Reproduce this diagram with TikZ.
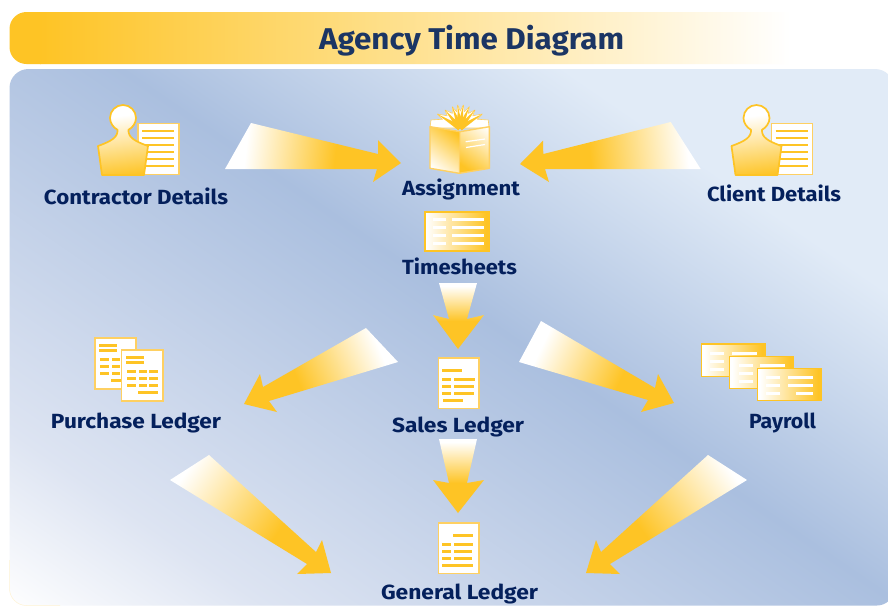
\documentclass[tikz,border=0pt]{standalone}
\usepackage{fontspec}
\usepackage{graphicx}
\setsansfont{Fira Sans}
\usetikzlibrary{calc}
\definecolor{ogold}{HTML}{FEC425}
\definecolor{opale}{HTML}{FED062}
\definecolor{navy}{HTML}{04205C}
\definecolor{titlenavy}{HTML}{1B3564}
\definecolor{bga}{HTML}{DDE4F2}
\definecolor{bgb}{HTML}{AABFDF}
\definecolor{bgc}{HTML}{E1EBF7}
\pgfdeclarehorizontalshading{wo}{100bp}{color(0bp)=(white); color(45bp)=(white); color(55bp)=(ogold); color(100bp)=(ogold)}
\pgfdeclarehorizontalshading{panelbg}{100bp}{color(0bp)=(white); color(27.2bp)=(white); color(33.9bp)=(bga); color(50bp)=(bgb); color(61.2bp)=(bgc); color(100bp)=(bgc)}
\newcommand\gradfill[5]{%
  \begin{scope}
    \clip #1;
    \pgfmathsetmacro\gra{atan2(-(#5-#3),#4-#2)}
    \pgfmathsetmacro\grl{veclen(#4-#2,#5-#3)}
    \begin{scope}[transform canvas={shift={(#2,#3)},rotate=\gra}]
      \shade[shading=wo] ({-2*\grl},-500) rectangle ({3*\grl},500);
    \end{scope}
  \end{scope}}
\newcommand\fitw[2]{\resizebox{#1pt}{\height}{#2}}
\newcommand\personicon[2]{%
  \def\personpath{({#1+5.5},{#2+11.8}) .. controls ({#1+10},{#2+9.5}) and ({#1+13},{#2+4.5}) .. ({#1+13},{#2})
    .. controls ({#1+13},{#2-7.18}) and ({#1+7.18},{#2-13}) .. ({#1},{#2-13})
    .. controls ({#1-7.18},{#2-13}) and ({#1-13},{#2-7.18}) .. ({#1-13},{#2})
    .. controls ({#1-13},{#2+4.5}) and ({#1-10},{#2+9.5}) .. ({#1-5.5},{#2+11.8})
    .. controls ({#1-5},{#2+19}) and ({#1-11},{#2+23}) .. ({#1-25},{#2+28})
    -- ({#1-21},{#2+57}) -- ({#1+21},{#2+57}) -- ({#1+25},{#2+28})
    .. controls ({#1+11},{#2+23}) and ({#1+5},{#2+19}) .. cycle}%
  \draw[sheet] ({#1+15},{#2+5.5}) rectangle ({#1+56},{#2+56.5});
  \foreach \dy in {13,20,27,34,41,48} \draw[bar=2] ({#1+19},{#2+\dy}) -- ({#1+51},{#2+\dy});
  \gradfill{\personpath}{#1-20}{#2}{#1+28}{#2+60}
  \draw[line width=1.7pt,ogold,line join=round] \personpath;}
\newcommand\bars[3]{\foreach \xa/\xb in {#1} \draw[bar=#3] (\xa,#2) -- (\xb,#2);}
\tikzset{
  lbl/.style={anchor=base,inner sep=0pt,font=\sffamily\bfseries\fontsize{20.5}{20.5}\selectfont,text=navy},
  sheet/.style={draw=opale,fill=white,line width=1.6pt},
  bar/.style={draw=ogold,line width=#1 pt},
  wbar/.style={draw=white,line width=#1 pt}}
\begin{document}
\begin{tikzpicture}[x=1pt,y=-1pt]
\useasboundingbox (0,0) rectangle (888,606);
\begin{scope}
\clip (0,0) rectangle (888,606);
\fill[white] (0,0) rectangle (888,606);
% title bar
\begin{scope}
  \clip[rounded corners=17pt] (9.5,12) rectangle (900,64);
  \fill[ogold] (0,0) rectangle (40.5,70);
  \shade[left color=ogold,right color=white] (40,0) rectangle (790,70);
\end{scope}
\node[anchor=base,inner sep=0pt,font=\sffamily\bfseries\fontsize{30}{30}\selectfont,text=titlenavy] (title) at (471.5,49) {\fitw{305}{Agency Time Diagram}};
% panel
\begin{scope}
  \clip[rounded corners=19pt] (9.5,69) rectangle (894,625);
  \clip[rounded corners=17pt] (9.5,0) rectangle (894,605.5);
  \begin{scope}[transform canvas={shift={(130,75)},rotate=55.5}]
    \shade[shading=panelbg] (-560,-1300) rectangle (560,1300);
  \end{scope}
\end{scope}
\draw[rounded corners=17pt,draw=ogold!20,line width=.5pt] (9.5,560) -- (9.5,605.5) -- (60,605.5);
% arrows
\coordinate (t1a) at (225,169); \coordinate (t1b) at (251,123); \coordinate (h1) at (401,163);
\gradfill{(t1a) -- (t1b) -- (378,154) -- (378,140) -- (h1) -- (373,182) -- (377,169) -- cycle}{246}{147}{335}{157}
\coordinate (t2a) at (700.7,169); \coordinate (t2b) at (670.7,122); \coordinate (h2) at (520,164);
\gradfill{(t2a) -- (t2b) -- (543.3,154) -- (543,140.7) -- (h2) -- (549,182) -- (545,169) -- cycle}{687}{147}{590}{157}
\coordinate (t3a) at (439,283); \coordinate (t3b) at (477,283); \coordinate (h3) at (458,349);
\gradfill{(t3a) -- (t3b) -- (467,319) -- (484,315) -- (h3) -- (433,315) -- (449,319) -- cycle}{458}{286}{458}{321}
\coordinate (t4a) at (439,439); \coordinate (t4b) at (477,439); \coordinate (h4) at (458,513);
\gradfill{(t4a) -- (t4b) -- (467,483) -- (484,480) -- (h4) -- (433,480) -- (449,483) -- cycle}{458}{442}{458}{483}
\coordinate (t5a) at (398,362); \coordinate (t5b) at (366,328); \coordinate (h5) at (244,404);
\gradfill{(t5a) -- (t5b) -- (263,387) -- (260,374) -- (h5) -- (277,412) -- (269,401) -- cycle}{377}{344}{297}{379}
\coordinate (t6a) at (519,362); \coordinate (t6b) at (541,321); \coordinate (h6) at (674,403);
\gradfill{(t6a) -- (t6b) -- (655,388) -- (658,374) -- (h6) -- (641,412) -- (648,400) -- cycle}{544}{341}{621}{378}
\coordinate (t7a) at (170,480); \coordinate (t7b) at (209,455); \coordinate (h7) at (331,573);
\gradfill{(t7a) -- (t7b) -- (316,552) -- (322,540) -- (h7) -- (297,574) -- (307,564) -- cycle}{190}{466}{280}{529}
\coordinate (t8a) at (747,480); \coordinate (t8b) at (708,455); \coordinate (h8) at (586,573);
\gradfill{(t8a) -- (t8b) -- (601,552) -- (596,540) -- (h8) -- (620,574) -- (610,564) -- cycle}{727}{466}{641}{529}
% persons
\personicon{123}{118}
\personicon{756.5}{118}
% book
\coordinate (fan) at (460,128);
\fill[white,draw=opale,line width=.6pt,line join=round] (430,128) -- (431,120) -- (442.5,119.2) -- (437.3,114) -- (447.2,115.8) -- (445,110) -- (452.3,113.4) -- (452.3,106.7) -- (456.6,111.7) -- (457.7,105) -- (460.3,111.1) -- (463.3,105) -- (464.3,111.7) -- (469.3,106.7) -- (468.3,113.4) -- (475,110) -- (472.7,115.8) -- (482.3,114) -- (477.2,119.2) -- (488.3,120) -- (489,128) -- cycle;
\foreach \tx/\ty in {437.3/114,445/110,452.3/106.7,457.7/105,463.3/105,469.3/106.7,475/110,482.3/114}
  \fill[ogold] (\tx,\ty) -- ($(fan)!2.8pt!90:(\tx,\ty)$) -- ($(fan)!2.8pt!-90:(\tx,\ty)$) -- cycle;
\gradfill{(430,126.7) -- (460,131.7) -- (459.3,173.3) -- (430,168.3) -- cycle}{432}{168}{458}{135}
\gradfill{(460,131.7) -- (489.3,126.7) -- (489.3,168.3) -- (459.3,173.3) -- cycle}{489}{128}{462}{165}
\draw[opale,line width=1.4pt,line join=round] (430,126.7) -- (460,131.7) -- (489.3,126.7) -- (489.3,168.3) -- (459.3,173.3) -- (430,168.3) -- cycle;
\draw[opale,line width=1pt] (460,131.7) -- (459.3,173.3);
\draw[wbar=1.2] (465.7,141.7) -- (485,139);
\draw[wbar=1.2] (466,147.5) -- (485,144.5);
% timesheets
\gradfill{(424.7,211.7) rectangle (489,250.7)}{426}{230}{486}{230}
\draw[ogold,line width=1.7pt] (424.7,211.7) rectangle (489,250.7);
\foreach \yy in {219.3,227.3,235.3,243.3} \draw[wbar=3] (433.3,\yy) -- (446,\yy) (451.7,\yy) -- (484,\yy);
% purchase ledger
\draw[sheet] (94.7,338) rectangle (136,389);
\bars{99/117}{345.3}{3} \bars{99/117}{350.3}{3}
\foreach \yy in {359.3,366.3,373.3} {\bars{100/109,112/120}{\yy}{3}}
\bars{111/122}{380.3}{3}
\draw[sheet] (121.3,349.7) rectangle (162.7,401);
\bars{126/144}{357.3}{3} \bars{126/144}{362.3}{3}
\foreach \yy in {371.3,378.3,385.3} {\bars{127/136,139/147,149/158}{\yy}{3}}
\bars{138/158}{392.3}{3}
% sales ledger
\draw[sheet] (438.3,357.7) rectangle (478.7,408.3);
\bars{442/462}{370.3}{3}
\bars{442/451,454/475}{379.3}{3}
\bars{442/451,454/474}{386.3}{3}
\bars{442/451,454/474}{393.3}{3}
\bars{443/463}{400.3}{3}
% general ledger
\draw[sheet] (438.3,522.7) rectangle (478.7,573.3);
\bars{453/473}{535.3}{3}
\bars{442/451,454/473}{544.3}{3}
\bars{442/451,454/472}{551.3}{3}
\bars{442/451,454/472}{558.3}{3}
\bars{442/473}{565.3}{3}
% payroll
\gradfill{(701.7,344) rectangle (765.7,376.7)}{704}{360}{762}{360}
\draw[ogold,line width=1.5pt] (701.7,344) rectangle (765.7,376.7);
\foreach \yy in {353.3,361.3,369.3} \draw[wbar=3] (709.7,\yy) -- (724,\yy);
\draw[wbar=3] (732,353.3) -- (757,353.3);
\gradfill{(729.7,356.3) rectangle (793.7,388.7)}{732}{370}{790}{370}
\draw[ogold,line width=1.5pt] (729.7,356.3) rectangle (793.7,388.7);
\foreach \yy in {365.3,373.3,381.3} \draw[wbar=3] (739,\yy) -- (753,\yy);
\draw[wbar=3] (760,365.3) -- (785,365.3);
\gradfill{(757.3,368.3) rectangle (821.3,400.7)}{760}{385}{818}{385}
\draw[ogold,line width=1.5pt] (757.3,368.3) rectangle (821.3,400.7);
\foreach \yy in {377.3,385.3,393.3} \draw[wbar=3] (766,\yy) -- (780,\yy);
\draw[wbar=3] (788,377.3) -- (813,377.3) (788,385.3) -- (813,385.3) (796,393.3) -- (813,393.3);
% labels
\node[lbl] (contractor) at (136,204) {\fitw{184}{Contractor Details}};
\node[lbl] (assignment) at (461,195) {\fitw{118}{Assignment}};
\node[lbl] (timesheets) at (459.5,274) {\fitw{115}{Timesheets}};
\node[lbl] (client) at (774,201.6) {\fitw{134}{Client Details}};
\node[lbl] (purchase) at (136,428) {\fitw{170}{Purchase Ledger}};
\node[lbl] (sales) at (458,432) {\fitw{132}{Sales Ledger}};
\node[lbl] (payroll) at (782.5,428) {\fitw{67}{Payroll}};
\node[lbl] (general) at (459.5,599) {\fitw{157}{General Ledger}};
\end{scope}
\end{tikzpicture}
\end{document}
